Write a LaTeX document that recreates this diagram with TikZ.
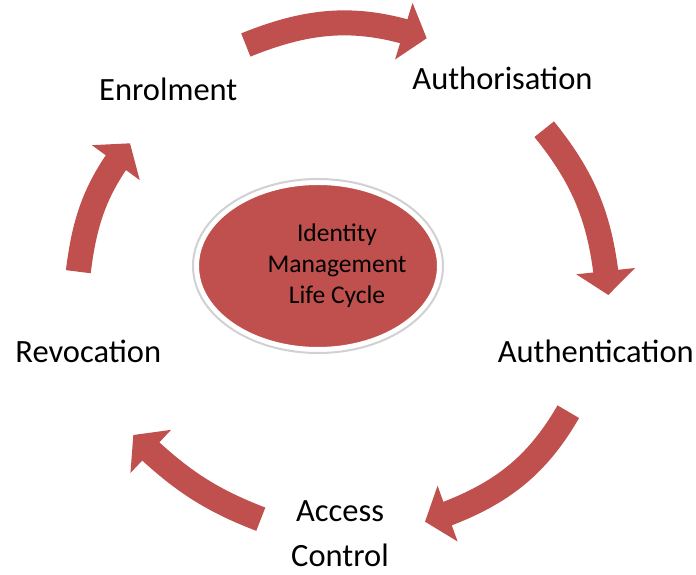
\documentclass[tikz,border=0pt]{standalone}
\usepackage{fontspec}
\setmainfont{Carlito}
\usetikzlibrary{arrows.meta,bending,shapes.geometric}
\definecolor{cyclered}{HTML}{C0504D}
\tikzset{
  cyclearrow/.style={draw=cyclered, line width=25pt,
    -{Triangle[width=58pt,length=24pt]}},
  stage/.style={font=\fontsize{32.5}{39}\selectfont, anchor=base, inner sep=0pt},
  corebox/.style={ellipse, fill=cyclered, draw=white, line width=4pt,
    minimum width=242pt, minimum height=166pt, inner sep=0pt},
  corerim/.style={ellipse, draw=black!18, line width=2pt,
    minimum width=250pt, minimum height=174pt, inner sep=0pt},
}
\begin{document}
\begin{tikzpicture}[x=1pt,y=1pt]
\useasboundingbox (0,0) rectangle (696,575);

% central ellipse with a light rim
\node[corerim] (corerim) at (318,309) {};
\node[corebox] (core) at (318,309) {};
\node[font=\fontsize{25.5}{31}\selectfont, align=center, inner sep=0pt]
  (coretitle) at (337,309) {Identity\\Management\\Life Cycle};

% stage labels
\node[stage] (enrol) at (168.3,474.3) {Enrolment};
\node[stage] (authz) at (502.5,485) {Authorisation};
\node[stage] (authn) at (595.8,212.7) {Authentication};
\node[stage] (revoc) at (88.3,212.7) {Revocation};
\node[stage, align=center, font=\fontsize{32.5}{45}\selectfont, anchor=north]
  (access) at (340,74.5) {Access\\Control};

% arrow ends
\coordinate (a1s) at (245.8,530);   \coordinate (a1e) at (426.7,536.7);
\coordinate (a2s) at (544.2,445.8); \coordinate (a2e) at (608.3,280);
\coordinate (a3s) at (568.3,163.3); \coordinate (a3e) at (425,53.3);
\coordinate (a4s) at (260.8,55.8);  \coordinate (a4e) at (133.3,140);
\coordinate (a5s) at (78.3,303.3);  \coordinate (a5e) at (130,431.7);

% curved block arrows around the cycle
\draw[cyclearrow] (a1s) to[out=22,  in=161] (a1e);
\draw[cyclearrow] (a2s) to[out=-51, in=95]  (a2e);
\draw[cyclearrow] (a3s) to[out=240, in=18.5] (a3e);
\draw[cyclearrow] (a4s) to[out=159, in=316] (a4e);
\draw[cyclearrow] (a5s) to[out=83,  in=232] (a5e);
\end{tikzpicture}
\end{document}
